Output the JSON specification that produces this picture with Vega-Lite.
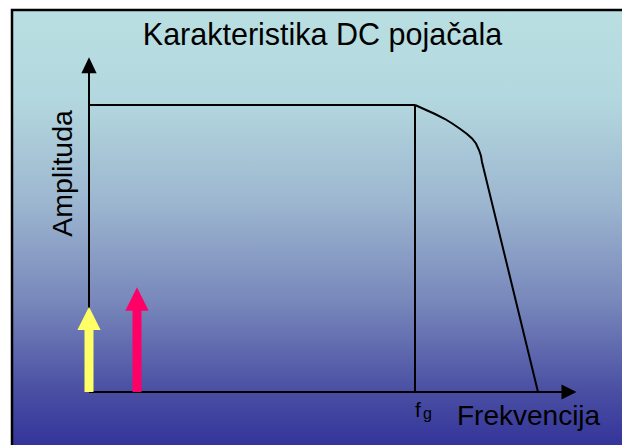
{
  "$schema": "https://vega.github.io/schema/vega-lite/v6.json",
  "width": 622,
  "height": 445,
  "padding": 0,
  "autosize": {"type": "fit", "contains": "padding"},
  "background": "white",
  "config": {"view": {"stroke": null}},
  "datasets": {
    "bg": [{"x": -77, "x2": 900, "y": 382, "y2": -56}],
    "rules": [
      {"line": "y-axis", "x": 0, "y": 0, "x2": 0, "y2": 326},
      {"line": "x-axis", "x": 0, "y": 0, "x2": 481, "y2": 0},
      {"line": "plateau", "x": 0, "y": 287, "x2": 326, "y2": 287},
      {"line": "fg", "x": 326, "y": 0, "x2": 326, "y2": 287}
    ],
    "curve": [
      {"o": 0, "x": 326, "y": 287},
      {"o": 1, "x": 336, "y": 282.5},
      {"o": 2, "x": 346, "y": 278},
      {"o": 3, "x": 356, "y": 273},
      {"o": 4, "x": 364, "y": 268},
      {"o": 5, "x": 372, "y": 262.5},
      {"o": 6, "x": 378, "y": 258},
      {"o": 7, "x": 383, "y": 253.5},
      {"o": 8, "x": 387, "y": 248.5},
      {"o": 9, "x": 390, "y": 242},
      {"o": 10, "x": 392, "y": 236},
      {"o": 11, "x": 393, "y": 230},
      {"o": 12, "x": 449, "y": 0}
    ],
    "axisheads": [
      {"axis": "y", "x": 0, "y": 326.7},
      {"axis": "x", "x": 480, "y": 0}
    ],
    "shafts": [
      {"name": "yellow", "x": 0, "y": 0, "y2": 64},
      {"name": "pink", "x": 48, "y": 0, "y2": 84}
    ],
    "heads": [
      {"name": "yellow", "x": 0, "y": 73.7},
      {"name": "pink", "x": 48, "y": 93}
    ]
  },
  "layer": [
    {
      "data": {"name": "bg"},
      "mark": {
        "type": "rect",
        "clip": true,
        "stroke": "black",
        "strokeWidth": 2.5,
        "fill": {
          "gradient": "linear",
          "x1": 0, "y1": 0, "x2": 0, "y2": 1,
          "stops": [
            {"offset": 0, "color": "#b9dfe2"},
            {"offset": 0.206, "color": "#b3d7de"},
            {"offset": 0.435, "color": "#9db7d0"},
            {"offset": 0.664, "color": "#7888bb"},
            {"offset": 0.87, "color": "#4a4fa3"},
            {"offset": 1, "color": "#333399"}
          ]
        }
      },
      "encoding": {
        "x": {"field": "x", "type": "quantitative", "scale": {"domain": [-89, 533], "nice": false, "zero": false}, "axis": null},
        "x2": {"field": "x2"},
        "y": {"field": "y", "type": "quantitative", "scale": {"domain": [-53, 392], "nice": false, "zero": false}, "axis": null},
        "y2": {"field": "y2"}
      }
    },
    {
      "data": {"name": "rules"},
      "mark": {"type": "rule", "color": "black", "strokeWidth": 2},
      "encoding": {
        "x": {"field": "x", "type": "quantitative", "scale": {"domain": [-89, 533], "nice": false, "zero": false}, "axis": null},
        "x2": {"field": "x2"},
        "y": {"field": "y", "type": "quantitative", "scale": {"domain": [-53, 392], "nice": false, "zero": false}, "axis": null},
        "y2": {"field": "y2"}
      }
    },
    {
      "data": {"name": "curve"},
      "mark": {"type": "line", "color": "black", "strokeWidth": 2},
      "encoding": {
        "x": {"field": "x", "type": "quantitative", "scale": {"domain": [-89, 533], "nice": false, "zero": false}, "axis": null},
        "y": {"field": "y", "type": "quantitative", "scale": {"domain": [-53, 392], "nice": false, "zero": false}, "axis": null},
        "order": {"field": "o"}
      }
    },
    {
      "data": {"name": "axisheads"},
      "transform": [{"filter": "datum.axis === 'y'"}],
      "mark": {"type": "point", "filled": true, "color": "black", "opacity": 1, "size": 256, "shape": "M0,-1L0.95,1L-0.95,1Z"},
      "encoding": {
        "x": {"field": "x", "type": "quantitative", "scale": {"domain": [-89, 533], "nice": false, "zero": false}, "axis": null},
        "y": {"field": "y", "type": "quantitative", "scale": {"domain": [-53, 392], "nice": false, "zero": false}, "axis": null}
      }
    },
    {
      "data": {"name": "axisheads"},
      "transform": [{"filter": "datum.axis === 'x'"}],
      "mark": {"type": "point", "filled": true, "color": "black", "opacity": 1, "size": 225, "shape": "M1,0L-1,1L-1,-1Z"},
      "encoding": {
        "x": {"field": "x", "type": "quantitative", "scale": {"domain": [-89, 533], "nice": false, "zero": false}, "axis": null},
        "y": {"field": "y", "type": "quantitative", "scale": {"domain": [-53, 392], "nice": false, "zero": false}, "axis": null}
      }
    },
    {
      "data": {"name": "shafts"},
      "mark": {"type": "rule", "strokeWidth": 9},
      "encoding": {
        "x": {"field": "x", "type": "quantitative", "scale": {"domain": [-89, 533], "nice": false, "zero": false}, "axis": null},
        "y": {"field": "y", "type": "quantitative", "scale": {"domain": [-53, 392], "nice": false, "zero": false}, "axis": null},
        "y2": {"field": "y2"},
        "color": {"field": "name", "type": "nominal", "scale": {"domain": ["yellow", "pink"], "range": ["#ffff66", "#ff0066"]}, "legend": null}
      }
    },
    {
      "data": {"name": "heads"},
      "mark": {"type": "point", "filled": true, "opacity": 1, "size": 543, "shape": "M0,-1L1,1L-1,1Z"},
      "encoding": {
        "x": {"field": "x", "type": "quantitative", "scale": {"domain": [-89, 533], "nice": false, "zero": false}, "axis": null},
        "y": {"field": "y", "type": "quantitative", "scale": {"domain": [-53, 392], "nice": false, "zero": false}, "axis": null},
        "color": {"field": "name", "type": "nominal", "scale": {"domain": ["yellow", "pink"], "range": ["#ffff66", "#ff0066"]}, "legend": null}
      }
    },
    {
      "data": {"values": [{"label": "Karakteristika DC pojačala", "x": 233.5, "y": 347}]},
      "mark": {"type": "text", "font": "Liberation Sans", "fontSize": 30.5, "align": "center", "baseline": "alphabetic", "color": "black"},
      "encoding": {
        "x": {"field": "x", "type": "quantitative", "scale": {"domain": [-89, 533], "nice": false, "zero": false}, "axis": null},
        "y": {"field": "y", "type": "quantitative", "scale": {"domain": [-53, 392], "nice": false, "zero": false}, "axis": null},
        "text": {"field": "label"}
      }
    },
    {
      "data": {"values": [{"label": "Amplituda", "x": -17.3, "y": 218.5}]},
      "mark": {"type": "text", "font": "Liberation Sans", "fontSize": 28.5, "align": "center", "baseline": "alphabetic", "angle": 270, "color": "black"},
      "encoding": {
        "x": {"field": "x", "type": "quantitative", "scale": {"domain": [-89, 533], "nice": false, "zero": false}, "axis": null},
        "y": {"field": "y", "type": "quantitative", "scale": {"domain": [-53, 392], "nice": false, "zero": false}, "axis": null},
        "text": {"field": "label"}
      }
    },
    {
      "data": {"values": [{"label": "Frekvencija", "x": 368, "y": -33}]},
      "mark": {"type": "text", "font": "Liberation Sans", "fontSize": 28, "align": "left", "baseline": "alphabetic", "color": "black"},
      "encoding": {
        "x": {"field": "x", "type": "quantitative", "scale": {"domain": [-89, 533], "nice": false, "zero": false}, "axis": null},
        "y": {"field": "y", "type": "quantitative", "scale": {"domain": [-53, 392], "nice": false, "zero": false}, "axis": null},
        "text": {"field": "label"}
      }
    },
    {
      "data": {"values": [{"label": "f", "x": 326, "y": -25}]},
      "mark": {"type": "text", "font": "Liberation Sans", "fontSize": 21, "align": "left", "baseline": "alphabetic", "color": "black"},
      "encoding": {
        "x": {"field": "x", "type": "quantitative", "scale": {"domain": [-89, 533], "nice": false, "zero": false}, "axis": null},
        "y": {"field": "y", "type": "quantitative", "scale": {"domain": [-53, 392], "nice": false, "zero": false}, "axis": null},
        "text": {"field": "label"}
      }
    },
    {
      "data": {"values": [{"label": "g", "x": 334, "y": -26.5}]},
      "mark": {"type": "text", "font": "Liberation Sans", "fontSize": 16, "align": "left", "baseline": "alphabetic", "color": "black"},
      "encoding": {
        "x": {"field": "x", "type": "quantitative", "scale": {"domain": [-89, 533], "nice": false, "zero": false}, "axis": null},
        "y": {"field": "y", "type": "quantitative", "scale": {"domain": [-53, 392], "nice": false, "zero": false}, "axis": null},
        "text": {"field": "label"}
      }
    }
  ]
}
